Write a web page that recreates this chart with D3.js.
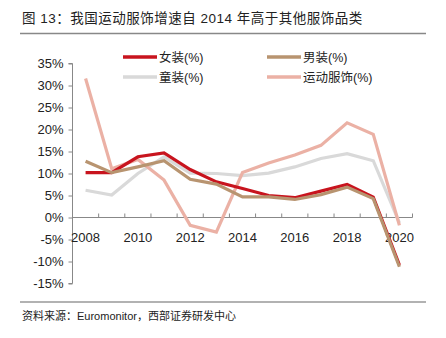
<html>
<head>
  <meta charset="utf-8">
  <style>
    body { margin: 0; padding: 0; background: white; }
    svg { display: block; }
    text { font-family: "Liberation Sans", Arial, "Noto Sans CJK SC", sans-serif; }
  </style>
</head>
<body>
  <div id="chart"></div>
  <script src="https://cdnjs.cloudflare.com/ajax/libs/d3/7.8.5/d3.min.js"></script>
  <script>
    // data
    var years = ['2008', '2009', '2010', '2011', '2012', '2013', '2014', '2015', '2016', '2017', '2018', '2019', '2020'];
    var womens = [10.2, 10.2, 13.8, 14.7, 10.9, 8.1, 6.6, 5.0, 4.5, 6.0, 7.5, 4.6, -10.8];
    var mens = [12.8, 10.2, 11.5, 12.9, 8.7, 7.6, 4.7, 4.7, 4.1, 5.2, 6.9, 4.3, -11.2];
    var kids = [6.2, 5.1, 10.0, 13.8, 10.1, 10.0, 9.5, 10.1, 11.5, 13.4, 14.5, 12.9, -1.2];
    var sports = [31.6, 11.1, 13.2, 8.5, -1.8, -3.3, 10.2, 12.4, 14.2, 16.4, 21.5, 18.9, -1.8];
    var yTicks = [35, 30, 25, 20, 15, 10, 5, 0, -5, -10, -15];
    var xLabels = ['2008', '2010', '2012', '2014', '2016', '2018', '2020'];

    var series = [
      { name: '女装(%)', vals: womens, color: '#c8141e' },
      { name: '童装(%)', vals: kids, color: '#d9d9d9' },
      { name: '男装(%)', vals: mens, color: '#b89470' },
      { name: '运动服饰(%)', vals: sports, color: '#ebb1a5' }
    ];
    // drawing order: later on top
    var drawOrder = [1, 3, 0, 2];

    var W = 446, H = 338;
    var svg = d3.select('#chart').append('svg')
      .attr('width', W)
      .attr('height', H);

    // title
    svg.append('text')
      .attr('x', 22).attr('y', 23)
      .attr('font-size', 13.5)
      .attr('letter-spacing', 0.5)
      .attr('fill', '#222')
      .text('图 13：我国运动服饰增速自 2014 年高于其他服饰品类');
    svg.append('line')
      .attr('x1', 20).attr('x2', 426).attr('y1', 33.5).attr('y2', 33.5)
      .attr('stroke', '#888').attr('stroke-width', 1.5);

    var x = d3.scaleBand().domain(years).range([72.5, 412.5]);
    var y = d3.scaleLinear().domain([-15, 35]).range([283.5, 63.5]);

    // y axis
    var yAxis = svg.append('g')
      .attr('transform', 'translate(72.5,0)')
      .call(d3.axisLeft(y).tickValues(yTicks).tickSize(4).tickFormat(function(d) { return d + '%'; }));
    yAxis.select('.domain').attr('stroke', '#888');
    yAxis.selectAll('.tick line').attr('stroke', '#888').attr('x1', 0).attr('x2', -4);
    yAxis.selectAll('.tick text')
      .attr('x', -9)
      .attr('font-size', 13)
      .attr('fill', '#222')
      .style('font-family', '"Liberation Sans", Arial, sans-serif');
    yAxis.select('.domain').attr('d', 'M-4,' + y(35) + 'H0V' + y(-15) + 'H-4');

    // x axis at zero
    var xAxis = svg.append('g')
      .attr('transform', 'translate(0,' + y(0) + ')');
    xAxis.append('line')
      .attr('x1', 72.5).attr('x2', 412.5)
      .attr('stroke', '#888');
    var bounds = years.map(function(d) { return x(d); }).concat([x.range()[1]]);
    xAxis.selectAll('.xt').data(bounds).enter().append('line')
      .attr('x1', function(d) { return d; })
      .attr('x2', function(d) { return d; })
      .attr('y1', 0).attr('y2', -4)
      .attr('stroke', '#888');
    xAxis.selectAll('.xl').data(xLabels).enter().append('text')
      .attr('x', function(d) { return x(d) + x.bandwidth() / 2; })
      .attr('y', 24)
      .attr('text-anchor', 'middle')
      .attr('font-size', 13)
      .attr('fill', '#222')
      .text(function(d) { return d; });

    var line = d3.line()
      .x(function(d, i) { return x(years[i]) + x.bandwidth() / 2; })
      .y(function(d) { return y(d); });

    drawOrder.forEach(function(k) {
      var s = series[k];
      svg.append('path')
        .datum(s.vals)
        .attr('d', line)
        .attr('fill', 'none')
        .attr('stroke', s.color)
        .attr('stroke-width', 3.2)
        .attr('stroke-linejoin', 'miter');
    });

    // legend
    var legendPos = [[123, 57], [123, 77], [267, 57], [267, 77]];
    series.forEach(function(s, i) {
      var p = legendPos[i];
      var g = svg.append('g').attr('transform', 'translate(' + p[0] + ',' + p[1] + ')');
      g.append('line')
        .attr('x1', 0).attr('x2', 34)
        .attr('stroke', s.color).attr('stroke-width', 3.5);
      g.append('text')
        .attr('x', 36).attr('y', 4.5)
        .attr('font-size', 12.5)
        .attr('fill', '#222')
        .text(s.name);
    });

    // source
    svg.append('line')
      .attr('x1', 20).attr('x2', 426).attr('y1', 302).attr('y2', 302)
      .attr('stroke', '#999').attr('stroke-width', 1.5);
    svg.append('text')
      .attr('x', 22).attr('y', 320)
      .attr('font-size', 11)
      .attr('fill', '#222')
      .text('资料来源：Euromonitor，西部证券研发中心');
  </script>
</body>
</html>
